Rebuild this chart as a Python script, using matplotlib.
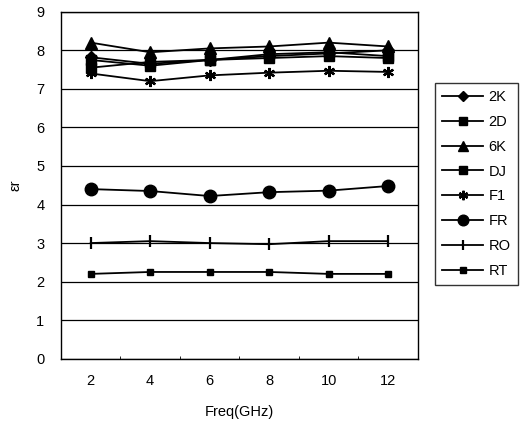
import matplotlib.pyplot as plt

plt.rcParams['font.family'] = ['Liberation Sans', 'DejaVu Sans']

freq = [2, 4, 6, 8, 10, 12]
series_names = ['2K', '2D', '6K', 'DJ', 'F1', 'FR', 'RO', 'RT']
er_2k = [7.82, 7.65, 7.75, 7.85, 7.92, 8.00]
er_2d = [7.55, 7.70, 7.75, 7.90, 7.95, 7.85]
er_6k = [8.20, 7.95, 8.05, 8.10, 8.20, 8.10]
er_dj = [7.75, 7.60, 7.75, 7.80, 7.85, 7.80]
er_f1 = [7.40, 7.20, 7.35, 7.42, 7.47, 7.44]
er_fr = [4.40, 4.35, 4.22, 4.32, 4.36, 4.48]
er_ro = [3.00, 3.05, 3.00, 2.97, 3.05, 3.05]
er_rt = [2.20, 2.25, 2.25, 2.25, 2.20, 2.20]

series = [er_2k, er_2d, er_6k, er_dj, er_f1, er_fr, er_ro, er_rt]
# (6, 2, 0) = six-spoke asterisk like the original F1 marker
markers = [('D', 6), ('s', 7), ('^', 8), ('s', 7), ((6, 2, 0), 8), ('o', 9), ('|', 9), ('s', 5)]

fig = plt.figure(figsize=(5.21, 4.21), dpi=100)
ax = fig.add_axes([0.117, 0.148, 0.685, 0.824])

for name, vals, (m, ms) in zip(series_names, series, markers):
    thick = m in ('|',) or isinstance(m, tuple)
    ax.plot(freq, vals, color='black', linewidth=1.3, marker=m, markersize=ms,
            markeredgewidth=1.6 if thick else 1.0, label=name)

# categorical-style x axis: half a step of room on each side
ax.set_xlim(1, 13)
ax.set_ylim(0, 9)
ax.set_xticks(freq)
ax.set_xticks([3, 5, 7, 9, 11], minor=True)
ax.set_yticks(range(0, 10))
ax.yaxis.grid(True, color='black', linewidth=0.9)
ax.tick_params(axis='x', length=0, labelsize=10.5, pad=11)
ax.tick_params(axis='x', which='minor', length=2, direction='in')
ax.tick_params(axis='y', length=0, labelsize=10.5, pad=12)
for s in ax.spines.values():
    s.set_linewidth(1.0)
ax.set_xlabel('Freq(GHz)', fontsize=10.5, labelpad=12)
ax.set_ylabel('εr', fontsize=10.5, labelpad=10)

fig.legend(loc='upper left', bbox_to_anchor=(0.835, 0.803), borderaxespad=0,
           frameon=True, fancybox=False, edgecolor='black', fontsize=10.5,
           handlelength=2.8, handletextpad=0.35, labelspacing=0.74,
           borderpad=0.5, markerscale=0.85)

fig.savefig('out.png', dpi=100)
